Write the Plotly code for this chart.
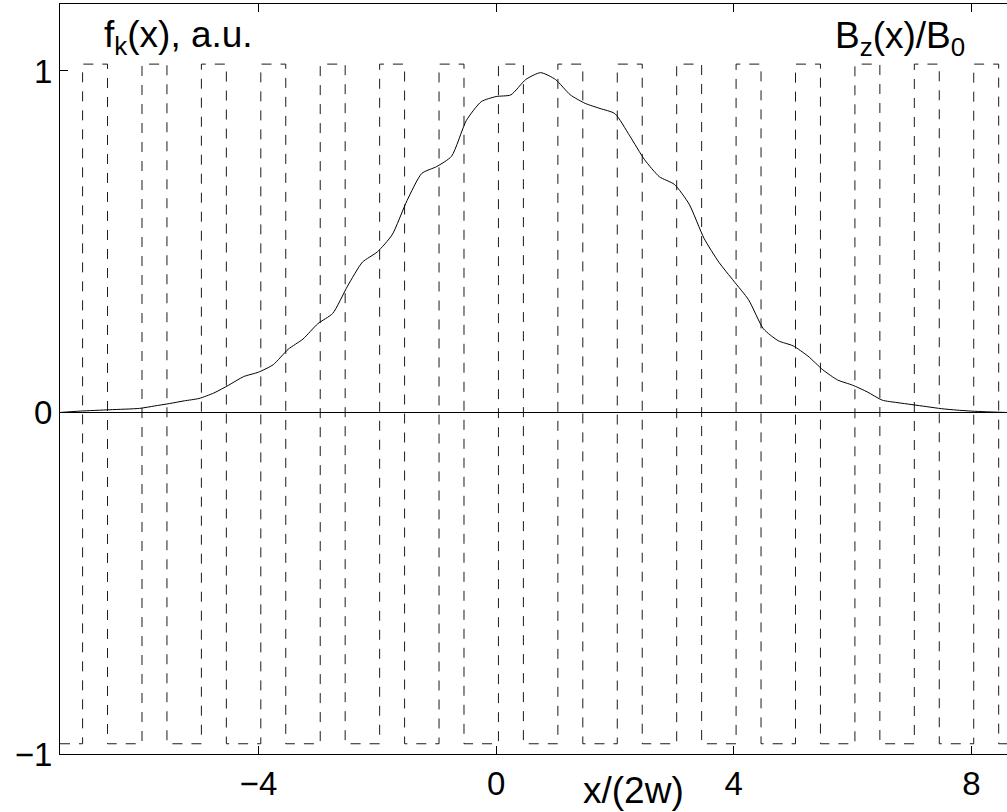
import plotly.graph_objects as go

# ---- data ----
x_min, x_max = -7.34, 8.60
# envelope f_k(x), a.u.
fk_x = [-7.34, -7.0, -6.5, -6.0, -5.75, -5.5, -5.25, -5.0, -4.75, -4.5, -4.25, -4.0,
        -3.75, -3.5, -3.25, -3.0, -2.75, -2.5, -2.25, -2.0, -1.75, -1.5, -1.25, -1.0,
        -0.75, -0.5, -0.25, 0.0, 0.25, 0.5, 0.75, 1.0, 1.25, 1.5, 1.75, 2.0, 2.25,
        2.5, 2.75, 3.0, 3.25, 3.5, 3.75, 4.0, 4.25, 4.5, 4.75, 5.0, 5.25, 5.5, 5.75,
        6.0, 6.25, 6.5, 6.75, 7.0, 7.25, 7.5, 7.75, 8.0, 8.25, 8.6]
fk_y = [0.0, 0.004, 0.008, 0.012, 0.019, 0.026, 0.034, 0.041, 0.057, 0.08, 0.105, 0.118,
        0.14, 0.185, 0.215, 0.26, 0.29, 0.37, 0.44, 0.47, 0.52, 0.62, 0.70, 0.72,
        0.75, 0.855, 0.91, 0.925, 0.93, 0.975, 0.995, 0.975, 0.93, 0.905, 0.89, 0.875, 0.81,
        0.74, 0.69, 0.668, 0.61, 0.51, 0.44, 0.385, 0.33, 0.245, 0.21, 0.195, 0.165, 0.125, 0.095,
        0.08, 0.06, 0.036, 0.029, 0.023, 0.017, 0.011, 0.007, 0.004, 0.002, 0.0]

# domain walls of B_z(x)/B_0 (square wave) and its two levels
walls = [-6.96, -6.54, -5.96, -5.54, -4.96, -4.54, -3.96, -3.54, -2.96, -2.54,
         -1.96, -1.54, -0.96, -0.54, 0.04, 0.46, 1.04, 1.46, 2.04, 2.46,
         3.04, 3.46, 4.04, 4.46, 5.04, 5.46, 6.04, 6.46, 7.04, 7.46, 8.04, 8.46]
b_high, b_low = 1.02, -0.97

x_ticks = [-4, 0, 4, 8]
x_tick_text = ["\u22124", "0", "4", "8"]
y_ticks = [-1, 0, 1]
y_tick_text = ["\u22121", "0", "1"]

# ---- build square wave via step line ----
bz_x = [x_min] + walls + [x_max]
bz_y = []
level = b_low
bz_y.append(level)
for _ in walls:
    level = b_high if level == b_low else b_low
    bz_y.append(level)
bz_y.append(level)

FONT = "Liberation Sans, Arial, Helvetica, sans-serif"

fig = go.Figure()
fig.add_trace(go.Scatter(x=bz_x, y=bz_y, mode="lines", line_shape="hv",
                         line=dict(color="black", width=0.9, dash="10px,9px"),
                         hoverinfo="skip", showlegend=False))
fig.add_trace(go.Scatter(x=fk_x, y=fk_y, mode="lines", line_shape="spline",
                         line=dict(color="black", width=1, smoothing=0.6),
                         hoverinfo="skip", showlegend=False))

fig.update_layout(
    width=1007, height=812,
    margin=dict(l=60, r=0, t=4, b=58),
    paper_bgcolor="white", plot_bgcolor="white",
    font=dict(family=FONT, size=33, color="black"),
    xaxis=dict(range=[x_min, x_max], tickvals=x_ticks, ticktext=x_tick_text,
               ticks="inside", ticklen=8, tickwidth=1, tickcolor="black",
               showline=True, linecolor="black", linewidth=1.3, mirror="ticks",
               showgrid=False, zeroline=False, tickfont=dict(size=33)),
    yaxis=dict(range=[-1.0, 1.196], tickvals=y_ticks, ticktext=y_tick_text,
               ticks="inside", ticklen=8, tickwidth=1, tickcolor="black",
               showline=True, linecolor="black", linewidth=1.3, mirror=False,
               showgrid=False, zeroline=True, zerolinecolor="black", zerolinewidth=1,
               tickfont=dict(size=33)),
    annotations=[
        dict(x=-6.63, y=1.10, xref="x", yref="y", text="f<sub>k</sub>(x), a.u.",
             showarrow=False, xanchor="left", yanchor="middle", font=dict(size=37)),
        dict(x=5.67, y=1.095, xref="x", yref="y", text="B<sub>z</sub>(x)/B<sub>0</sub>",
             showarrow=False, xanchor="left", yanchor="middle", font=dict(size=37)),
        dict(x=2.32, y=-0.048, xref="x", yref="paper", text="x/(2w)",
             showarrow=False, xanchor="center", yanchor="middle", font=dict(size=37)),
    ],
)

fig.write_html("out.html", config={"displayModeBar": False},
               post_script="document.body.style.margin='0';document.body.style.overflow='hidden';")
